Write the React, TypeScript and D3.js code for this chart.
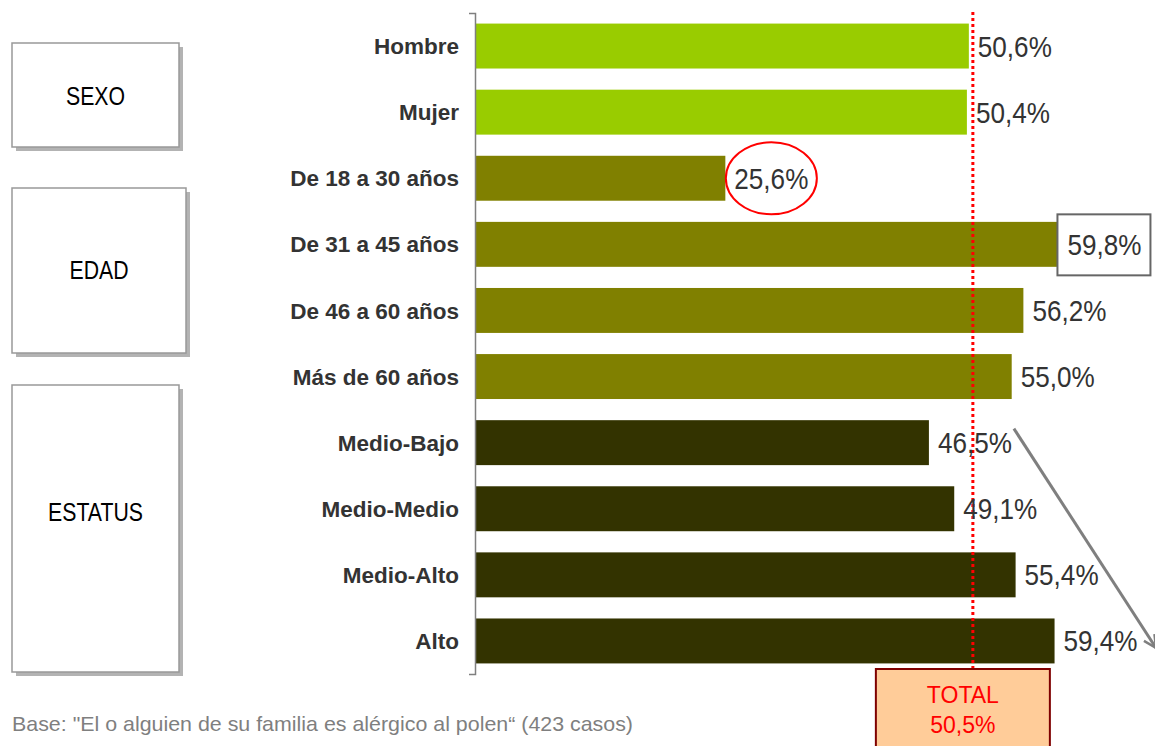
import React from "react";
import * as d3 from "d3";

const categories = [
  "Hombre",
  "Mujer",
  "De 18 a 30 años",
  "De 31 a 45 años",
  "De 46 a 60 años",
  "Más de 60 años",
  "Medio-Bajo",
  "Medio-Medio",
  "Medio-Alto",
  "Alto",
];
const values = [50.6, 50.4, 25.6, 59.8, 56.2, 55.0, 46.5, 49.1, 55.4, 59.4];
const groupOf = ["sexo", "sexo", "edad", "edad", "edad", "edad", "estatus", "estatus", "estatus", "estatus"];
const groupColors: Record<string, string> = { sexo: "#99cc00", edad: "#808000", estatus: "#333300" };
const groups = [
  { key: "sexo", label: "SEXO" },
  { key: "edad", label: "EDAD" },
  { key: "estatus", label: "ESTATUS" },
];
const totalValue = 50.5;
const circledIndex = 2;
const boxedIndex = 3;
const footnote = 'Base: "El o alguien de su familia es alérgico al polen“ (423 casos)';

const fmt = (v: number) => v.toFixed(1).replace(".", ",") + "%";

function Axis({ y }: { y: d3.ScaleBand<string> }) {
  const ref = React.useRef<SVGGElement>(null);
  React.useEffect(() => {
    if (!ref.current) return;
    const g = d3.select(ref.current);
    g.call(d3.axisLeft(y).tickValues([]).tickSizeOuter(6));
    g.select(".domain").attr("stroke", "#7f7f7f").attr("stroke-width", 1.5);
  }, [y]);
  return <g ref={ref} transform="translate(475,0)" />;
}

export default function App() {
  const W = 1155;
  const H = 746;
  const x = d3.scaleLinear().domain([0, 60]).range([476, 476 + 60 * 9.74]);
  const y = d3
    .scaleBand<string>()
    .domain(categories)
    .range([13, 674])
    .paddingInner(0.32)
    .paddingOuter(0.16);
  const bw = y.bandwidth();

  // group box geometry (layout)
  const groupBoxes: Record<string, { x: number; y: number; w: number; h: number; ty: number }> = {
    sexo: { x: 12, y: 43, w: 167, h: 104, ty: 105 },
    edad: { x: 12, y: 188, w: 174, h: 165, ty: 279 },
    estatus: { x: 12, y: 385, w: 167, h: 287, ty: 521 },
  };

  const totalX = x(totalValue) + 5;
  const cy = (i: number) => (y(categories[i]) as number) + bw / 2;

  const arrowStartX = x(values[6]) + 85;
  const arrowStartY = cy(6) - 14;

  return (
    <svg
      width={W}
      height={H}
      style={{ position: "absolute", left: 0, top: 0, fontFamily: "'Liberation Sans', Arial, sans-serif" }}
    >
      <defs>
        <marker id="arr" viewBox="0 0 12 12" refX="11" refY="6" markerWidth="5" markerHeight="5" orient="auto">
          <path d="M1,1 L11,6 L1,11" fill="none" stroke="#7f7f7f" strokeWidth="2" />
        </marker>
      </defs>
      <rect width={W} height={H} fill="#ffffff" />

      {/* group boxes */}
      {groups.map((g) => {
        const b = groupBoxes[g.key];
        return (
          <g key={g.key}>
            <rect x={b.x + 4} y={b.y + 4} width={b.w} height={b.h} fill="#b3b3b3" />
            <rect x={b.x} y={b.y} width={b.w} height={b.h} fill="#ffffff" stroke="#999999" strokeWidth={1.5} />
            <text
              transform={`translate(${b.x + b.w / 2},${b.ty}) scale(0.85,1)`}
              textAnchor="middle"
              fontSize={25}
              fill="#000000"
            >
              {g.label}
            </text>
          </g>
        );
      })}

      {/* bars */}
      {categories.map((c, i) => (
        <rect
          key={c}
          x={x(0)}
          y={y(c)}
          width={x(values[i]) - x(0)}
          height={bw}
          fill={groupColors[groupOf[i]]}
        />
      ))}

      <Axis y={y} />

      {/* category labels */}
      {categories.map((c, i) => (
        <text
          key={c}
          x={459}
          y={cy(i)}
          dy="0.36em"
          textAnchor="end"
          fontSize={22.5}
          fontWeight="bold"
          fill="#333333"
        >
          {c}
        </text>
      ))}

      {/* total line */}
      <line
        x1={totalX}
        x2={totalX}
        y1={12}
        y2={670}
        stroke="#ff0000"
        strokeWidth={3}
        strokeDasharray="3,3"
      />

      {/* highlighted value box */}
      <rect
        x={x(values[boxedIndex]) - 1}
        y={cy(boxedIndex) - 30}
        width={93}
        height={61}
        fill="#ffffff"
        stroke="#666666"
        strokeWidth={2}
      />

      {/* value labels */}
      {categories.map((c, i) => (
        <text
          key={c}
          transform={`translate(${x(values[i]) + 9},${cy(i) + 10.5}) scale(0.87,1)`}
          fontSize={30}
          fill="#333333"
        >
          {fmt(values[i])}
        </text>
      ))}

      {/* circled value */}
      <ellipse
        cx={x(values[circledIndex]) + 46}
        cy={cy(circledIndex)}
        rx={45.5}
        ry={36}
        fill="none"
        stroke="#ff0000"
        strokeWidth={2}
      />

      {/* trend arrow */}
      <line
        x1={arrowStartX}
        y1={arrowStartY}
        x2={1156}
        y2={648}
        stroke="#7f7f7f"
        strokeWidth={3}
        markerEnd="url(#arr)"
      />

      {/* total box */}
      <rect x={totalX - 97} y={669} width={174} height={90} fill="#ffcc99" stroke="#7f0000" strokeWidth={2} />
      <text x={totalX - 10} y={703} textAnchor="middle" fontSize={23} fill="#ff0000">
        TOTAL
      </text>
      <text x={totalX - 10} y={733} textAnchor="middle" fontSize={23} fill="#ff0000">
        {fmt(totalValue)}
      </text>

      {/* footnote */}
      <text x={12} y={731} fontSize={21} fill="#7f7f7f" textLength={621} lengthAdjust="spacingAndGlyphs">
        {footnote}
      </text>
    </svg>
  );
}
